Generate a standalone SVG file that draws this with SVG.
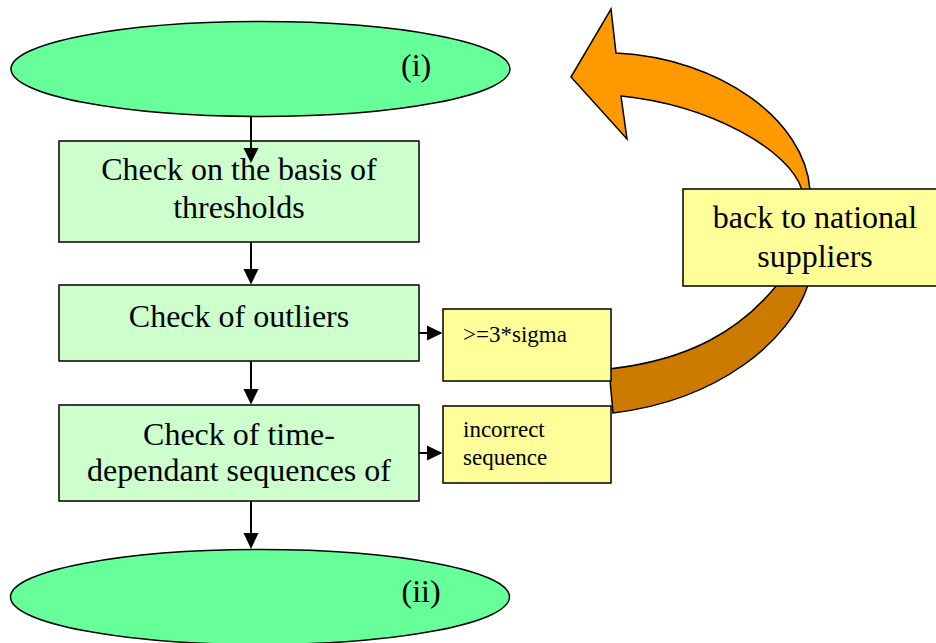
<svg xmlns="http://www.w3.org/2000/svg" width="936" height="643" viewBox="0 0 936 643">
<style>
  .ell { fill: #66FF99; stroke: #000; stroke-width: 1.5; }
  .box { fill: #CCFFCC; stroke: #000; stroke-width: 1.5; }
  .ybox { fill: #FFFF99; stroke: #000; stroke-width: 1.5; }
  .big { font-family: "Liberation Serif", "Times New Roman", serif; font-size: 32px; fill: #000; }
  .small { font-family: "Liberation Serif", "Times New Roman", serif; font-size: 23px; fill: #000; }
  .line { stroke: #000; stroke-width: 2; fill: none; }
  .head { fill: #000; }
  .arc { stroke: #000; stroke-width: 1.5; stroke-linejoin: miter; }
</style>
<rect width="936" height="643" fill="#fff"/>

<g id="return-arrow">
  <path class="arc" fill="#CC7A00" d="M 811,235 L 808,285 C 790,340 720,400 613,413 L 609,369 C 690,360 740,330 777,285 L 796,235 Z"/>
  <path class="arc" fill="#FF9900" d="M 571,77 L 611,9 L 616,53 C 720,58 805,120 810,190 L 811,240 L 796,240 L 802,190 C 790,150 710,105 621,96 L 627,139 Z"/>
</g>

<g id="start">
  <ellipse class="ell" cx="260.5" cy="69" rx="249.5" ry="47.5"/>
  <text class="big" x="401" y="76">(i)</text>
</g>

<g id="thresholds">
  <rect class="box" x="59" y="141" width="360" height="101"/>
  <text class="big" x="239" y="180" text-anchor="middle">Check on the basis of</text>
  <text class="big" x="239" y="218" text-anchor="middle">thresholds</text>
</g>

<g id="outliers">
  <rect class="box" x="59" y="285" width="360" height="76"/>
  <text class="big" x="239" y="326.5" text-anchor="middle">Check of outliers</text>
</g>

<g id="sequences">
  <rect class="box" x="59" y="405" width="360" height="96"/>
  <text class="big" x="239" y="445" text-anchor="middle">Check of time-</text>
  <text class="big" x="239" y="480.5" text-anchor="middle">dependant sequences of</text>
</g>

<g id="end">
  <ellipse class="ell" cx="260" cy="597" rx="249.5" ry="47.5"/>
  <text class="big" x="401.5" y="602">(ii)</text>
</g>

<g id="sigma">
  <rect class="ybox" x="443" y="309" width="168" height="72"/>
  <text class="small" x="463" y="342">&gt;=3*sigma</text>
</g>

<g id="incorrect">
  <rect class="ybox" x="443" y="406" width="168" height="77"/>
  <text class="small" x="463" y="437">incorrect</text>
  <text class="small" x="463" y="465">sequence</text>
</g>

<g id="national">
  <rect class="ybox" x="683" y="189" width="264" height="97"/>
  <text class="big" x="815" y="228" text-anchor="middle">back to national</text>
  <text class="big" x="815" y="267" text-anchor="middle">suppliers</text>
</g>

<g id="connectors">
  <line class="line" x1="251" y1="117" x2="251" y2="150"/>
  <polygon class="head" points="243.5,148 258.5,148 251,163"/>
  <line class="line" x1="251" y1="242" x2="251" y2="271"/>
  <polygon class="head" points="243.5,269 258.5,269 251,284.5"/>
  <line class="line" x1="251" y1="361" x2="251" y2="391"/>
  <polygon class="head" points="243.5,389 258.5,389 251,404.5"/>
  <line class="line" x1="251" y1="501" x2="251" y2="535"/>
  <polygon class="head" points="243.5,533 258.5,533 251,549"/>
  <line class="line" x1="419" y1="333" x2="429" y2="333"/>
  <polygon class="head" points="427,325.5 427,340.5 442.5,333"/>
  <line class="line" x1="419" y1="453" x2="429" y2="453"/>
  <polygon class="head" points="427,445.5 427,460.5 442.5,453"/>
</g>
</svg>
